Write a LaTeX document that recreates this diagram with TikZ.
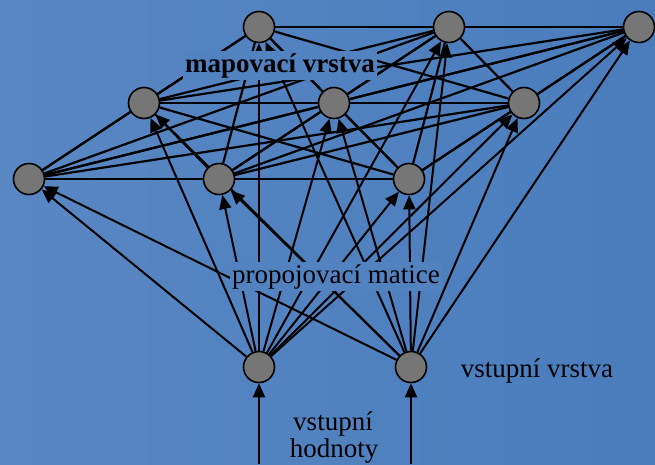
\documentclass[tikz,border=0pt]{standalone}
\usepackage{fontspec}
\setmainfont{Liberation Serif}
\usetikzlibrary{arrows.meta}
\definecolor{bgleft}{RGB}{89,135,195}
\definecolor{bgright}{RGB}{74,124,188}
\definecolor{bgmid}{RGB}{82,130,192}
\definecolor{cellgray}{RGB}{118,118,118}
\pgfdeclarelayer{bg}
\pgfdeclarelayer{wires}
\pgfsetlayers{bg,wires,main}

\begin{document}
\begin{tikzpicture}[x=1pt,y=-1pt,
  >={Triangle[length=14pt,width=12pt]},
  neuron/.style={circle,draw,line width=1.6pt,fill=cellgray,minimum size=31pt,inner sep=0pt},
  link/.style={line width=2.2pt},
  feed/.style={->,line width=2pt},
  lab/.style={font=\fontsize{27}{29}\selectfont,inner sep=2pt,anchor=base}]
%
  \begin{pgfonlayer}{bg}
    \shade[left color=bgleft,right color=bgright] (0,0) rectangle (655,464);
  \end{pgfonlayer}
  \useasboundingbox (0,0) rectangle (655,464);
%
% mapovaci vrstva
  \node[neuron] (m1) at (259,27) {};
  \node[neuron] (m2) at (449,27) {};
  \node[neuron] (m3) at (639,27) {};
  \node[neuron] (m4) at (144,103) {};
  \node[neuron] (m5) at (334,103) {};
  \node[neuron] (m6) at (524,103) {};
  \node[neuron] (m7) at (29,179) {};
  \node[neuron] (m8) at (219,179) {};
  \node[neuron] (m9) at (409,179) {};
% vstupni vrstva
  \node[neuron] (x1) at (259,367) {};
  \node[neuron] (x2) at (411,367) {};
  \coordinate (u1) at (259,464);
  \coordinate (u2) at (411,464);
%
  \begin{pgfonlayer}{wires}
    \foreach \a in {1,...,8} {
      \pgfmathtruncatemacro\n{\a+1}
      \foreach \b in {\n,...,9}
        \draw[link] (m\a) -- (m\b);
    }
    \foreach \a in {1,...,9} {
      \draw[feed] (x1) -- (m\a);
      \draw[feed] (x2) -- (m\a);
    }
    \draw[feed] (u1) -- (x1);
    \draw[feed] (u2) -- (x2);
  \end{pgfonlayer}
%
  \node[lab,fill=bgmid] (map) at (280,72) {\textbf{mapovací vrstva}};
  \node[lab,fill=bgmid] (mat) at (336,283) {propojovací matice};
  \node[lab] (inl) at (537,377) {vstupní vrstva};
  \node[lab] (val1) at (333,430) {vstupní};
  \node[lab] (val2) at (334,457) {hodnoty};
\end{tikzpicture}
\end{document}
